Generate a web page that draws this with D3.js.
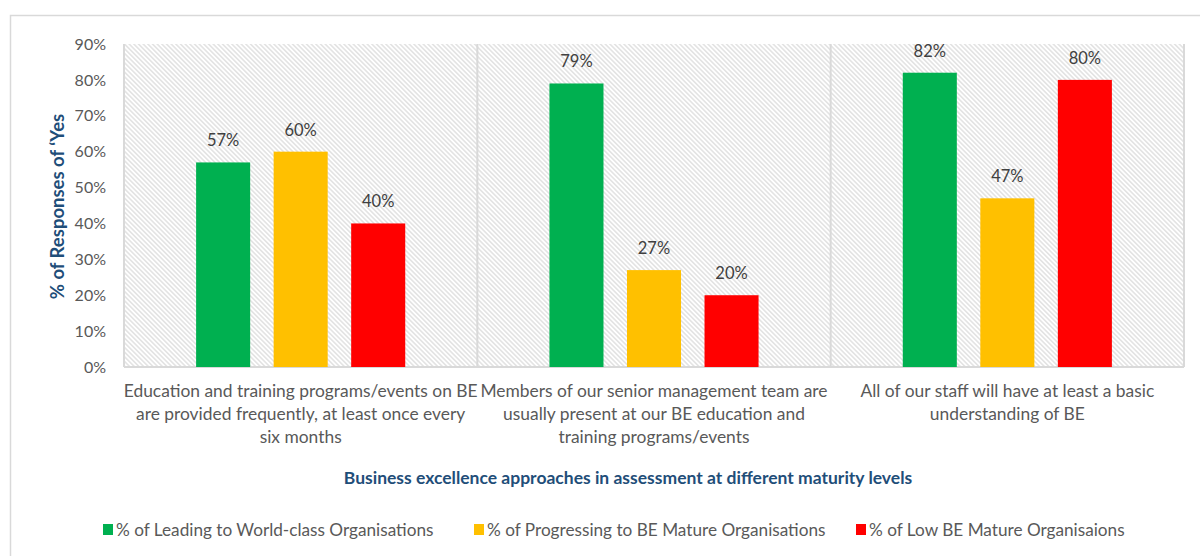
<!DOCTYPE html>
<html>
<head>
<meta charset="utf-8">
<script src="https://cdn.jsdelivr.net/npm/d3@7"></script>
<style>
  html, body { margin: 0; padding: 0; background: #fff; }
  svg { display: block; font-family: Lato, "Open Sans", sans-serif; }
</style>
</head>
<body>
<svg id="chart" width="1200" height="556"></svg>
<script>
// Statements assessed, one label line per array entry
const categories = [
  ["Education and training programs/events on BE", "are provided frequently, at least once every", "six months"],
  ["Members of our senior management team are", "usually present at our BE education and", "training programs/events"],
  ["All of our staff will have at least a basic", "understanding of BE"]
];
const seriesNames = [
  "% of Leading to World-class Organisations",
  "% of Progressing to BE Mature Organisations",
  "% of Low BE Mature Organisaions"
];
const seriesColors = ["#00B050", "#FFC000", "#FF0000"];
// Share of "Yes" per statement, one array per maturity group
const leading = [0.57, 0.79, 0.82];
const progressing = [0.60, 0.27, 0.47];
const low = [0.40, 0.20, 0.80];
const yTicks = [0, 0.1, 0.2, 0.3, 0.4, 0.5, 0.6, 0.7, 0.8, 0.9];
const yTitle = "% of Responses of \u2018Yes";
const xTitle = "Business excellence approaches in assessment at different maturity levels";

const values = [leading, progressing, low];
const svg = d3.select("#chart");
const plot = { left: 124, right: 1184, top: 44, bottom: 367 };

// Outer chart frame
svg.append("rect")
  .attr("x", 10.5).attr("y", 15.5).attr("width", 1200).attr("height", 560)
  .attr("fill", "#fff").attr("stroke", "#d9d9d9").attr("stroke-width", 1.5);

// Diagonal hatch (top-left to bottom-right) used for the plot background
const defs = svg.append("defs");
const pat = defs.append("pattern")
  .attr("id", "hatch").attr("patternUnits", "userSpaceOnUse")
  .attr("width", 3.3).attr("height", 3.3)
  .attr("patternTransform", "rotate(-45)");
pat.append("rect").attr("width", 3.3).attr("height", 3.3).attr("fill", "#fff");
pat.append("line").attr("x1", 0.8).attr("y1", 0).attr("x2", 0.8).attr("y2", 3.3)
  .attr("stroke", "#dadada").attr("stroke-width", 1.2);

const x0 = d3.scaleBand()
  .domain(d3.range(categories.length))
  .range([plot.left, plot.right]);
const x1 = d3.scaleBand()
  .domain(d3.range(seriesNames.length))
  .range([0, x0.bandwidth()])
  .paddingInner(0.303).paddingOuter(0.93);
const y = d3.scaleLinear().domain([0, 0.9]).range([plot.bottom, plot.top]);

svg.append("rect")
  .attr("x", plot.left).attr("y", plot.top)
  .attr("width", plot.right - plot.left).attr("height", plot.bottom - plot.top)
  .attr("fill", "url(#hatch)");

// Category separators and frame
const seps = d3.range(categories.length + 1).map(i => i < categories.length ? x0(i) : plot.right);
svg.selectAll("line.sep").data(seps).join("line")
  .attr("class", "sep")
  .attr("x1", d => d).attr("x2", d => d)
  .attr("y1", plot.top).attr("y2", plot.bottom)
  .attr("stroke", "#d9d9d9").attr("stroke-width", 2);
svg.append("line")
  .attr("x1", plot.left).attr("x2", plot.right)
  .attr("y1", plot.bottom).attr("y2", plot.bottom)
  .attr("stroke", "#d9d9d9").attr("stroke-width", 2);

// Y axis
const yAxis = svg.append("g")
  .attr("transform", `translate(${plot.left},0)`)
  .call(d3.axisLeft(y).tickValues(yTicks).tickFormat(d3.format(".0%")).tickSize(0).tickPadding(18));
yAxis.select(".domain").remove();
yAxis.selectAll("text")
  .attr("font-family", "Lato, sans-serif").attr("font-size", 16).attr("fill", "#595959");

// Bars
const groups = svg.selectAll("g.cat").data(categories).join("g")
  .attr("class", "cat")
  .attr("transform", (d, i) => `translate(${x0(i)},0)`);
groups.each(function (c, ci) {
  const g = d3.select(this);
  const rows = seriesNames.map((s, si) => ({ si, v: values[si][ci] }));
  g.selectAll("rect").data(rows).join("rect")
    .attr("x", d => x1(d.si)).attr("width", x1.bandwidth())
    .attr("y", d => y(d.v)).attr("height", d => y(0) - y(d.v))
    .attr("fill", d => seriesColors[d.si]);
  g.selectAll("text.val").data(rows).join("text")
    .attr("class", "val")
    .attr("x", d => x1(d.si) + x1.bandwidth() / 2)
    .attr("y", d => y(d.v) - 16)
    .attr("text-anchor", "middle")
    .attr("font-size", 16.5).attr("fill", "#404040")
    .text(d => d3.format(".0%")(d.v));
  // Category label lines
  g.selectAll("text.lab").data(c).join("text")
    .attr("class", "lab")
    .attr("x", x0.bandwidth() / 2)
    .attr("y", (d, i) => 397 + i * 23)
    .attr("text-anchor", "middle")
    .attr("font-size", 17.4).attr("fill", "#595959")
    .text(d => d);
});

// Axis titles
svg.append("text")
  .attr("transform", `translate(64,${(plot.top + plot.bottom) / 2 + 1}) rotate(-90)`)
  .attr("text-anchor", "middle")
  .attr("font-size", 18.5).attr("font-weight", "bold").attr("fill", "#1F4E79")
  .text(yTitle);
svg.append("text")
  .attr("x", 628).attr("y", 484)
  .attr("text-anchor", "middle")
  .attr("font-size", 17.5).attr("font-weight", "bold").attr("fill", "#1F4E79")
  .text(xTitle);

// Legend
const legendX = [103, 474, 856];
const leg = svg.selectAll("g.leg").data(seriesNames).join("g")
  .attr("class", "leg")
  .attr("transform", (d, i) => `translate(${legendX[i]},524)`);
leg.append("rect").attr("width", 10).attr("height", 11).attr("fill", (d, i) => seriesColors[i]);
leg.append("text").attr("x", 13).attr("y", 12)
  .attr("font-size", 17.2).attr("fill", "#595959").text(d => d);
</script>
</body>
</html>
